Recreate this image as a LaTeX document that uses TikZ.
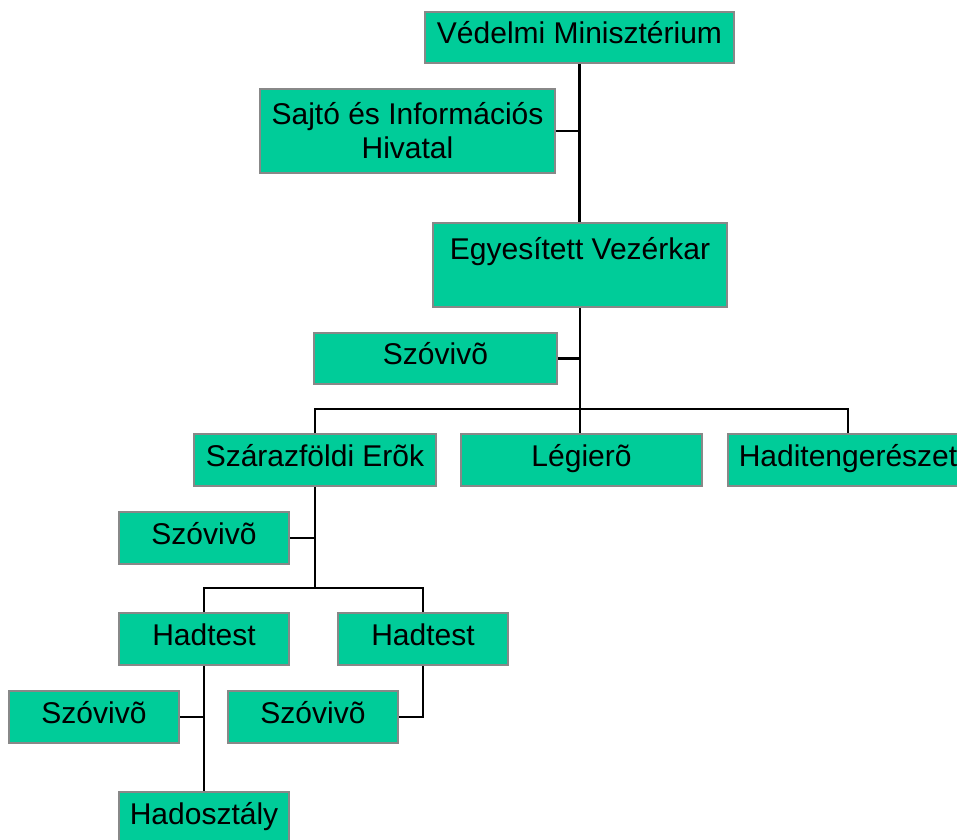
\documentclass[tikz,border=0pt]{standalone}
\usepackage{fontspec}
\setmainfont{Liberation Sans}
\usepackage{tikz}
\definecolor{unitgreen}{RGB}{0,204,153}
\definecolor{unitedge}{RGB}{136,136,136}
\tikzset{
  unit/.style={draw=unitedge, line width=2pt, fill=unitgreen, inner sep=2pt,
    align=center, font=\fontsize{30}{34}\selectfont},
  oneline/.style={text height=22pt, text depth=10pt},
  link/.style={draw=black, line width=2.2pt}
}
\newcommand{\unitbox}[7][oneline]{\node[unit, #1, minimum width={#5-#3}, minimum height={#6-#4}] (#2) at ( {(#3+#5)/2} , {(#4+#6)/2} ) {#7};}

\begin{document}
\begin{tikzpicture}[x=1pt, y=-1pt]
            \useasboundingbox (0,0) rectangle (957,839);
            % top
            \unitbox{vm}{425}{12}{734}{63}{Védelmi Minisztérium}
            \unitbox[]{sajto}{260}{89}{555}{173}{Sajtó és Információs\\Hivatal}
            \unitbox[]{ev}{433}{223}{727}{307}{Egyesített Vezérkar\\~}
            \unitbox{szov1}{314}{333}{557}{384}{Szóvivõ}

            % forces
            \unitbox{szerok}{194}{434}{436}{486}{Szárazföldi Erõk}
            \unitbox{legiero}{461}{434}{702}{486}{Légierõ}
            \unitbox{hadi}{728}{434}{968}{486}{Haditengerészet}
            \unitbox{szov2}{119}{512}{289}{564}{Szóvivõ}

            % corps
            \unitbox{ht1}{119}{613}{289}{665}{Hadtest}
            \unitbox{ht2}{338}{613}{508}{665}{Hadtest}
            \unitbox{szov3}{9}{691}{179}{743}{Szóvivõ}
            \unitbox{szov4}{228}{691}{398}{743}{Szóvivõ}
            \unitbox{hado}{119}{792}{289}{844}{Hadosztály}

            \coordinate (bus1) at (580,409);
            \coordinate (bus2) at (315,588);

            % links
            \draw[link] (vm.south) -- (vm.south |- ev.north);
            \draw[link] (sajto.east) -- (sajto.east -| vm.south);
            \draw[link] (szov1.east) -- (szov1.east -| bus1);
            \draw[link] (ev.south) -- (bus1);
            \draw[link] (szerok.north) |- (bus1) -| (hadi.north);
            \draw[link] (bus1) -- (bus1 |- legiero.north);
            \draw[link] (szerok.south) -- (bus2);
            \draw[link] (szov2.east) -- (szov2.east -| bus2);
            \draw[link] (ht1.north) |- (bus2) -| (ht2.north);
            \draw[link] (ht1.south) -- (hado.north);
            \draw[link] (szov3.east) -- (szov3.east -| ht1.south);
            \draw[link] (ht2.south) |- (szov4.east);
        \end{tikzpicture}
\end{document}
